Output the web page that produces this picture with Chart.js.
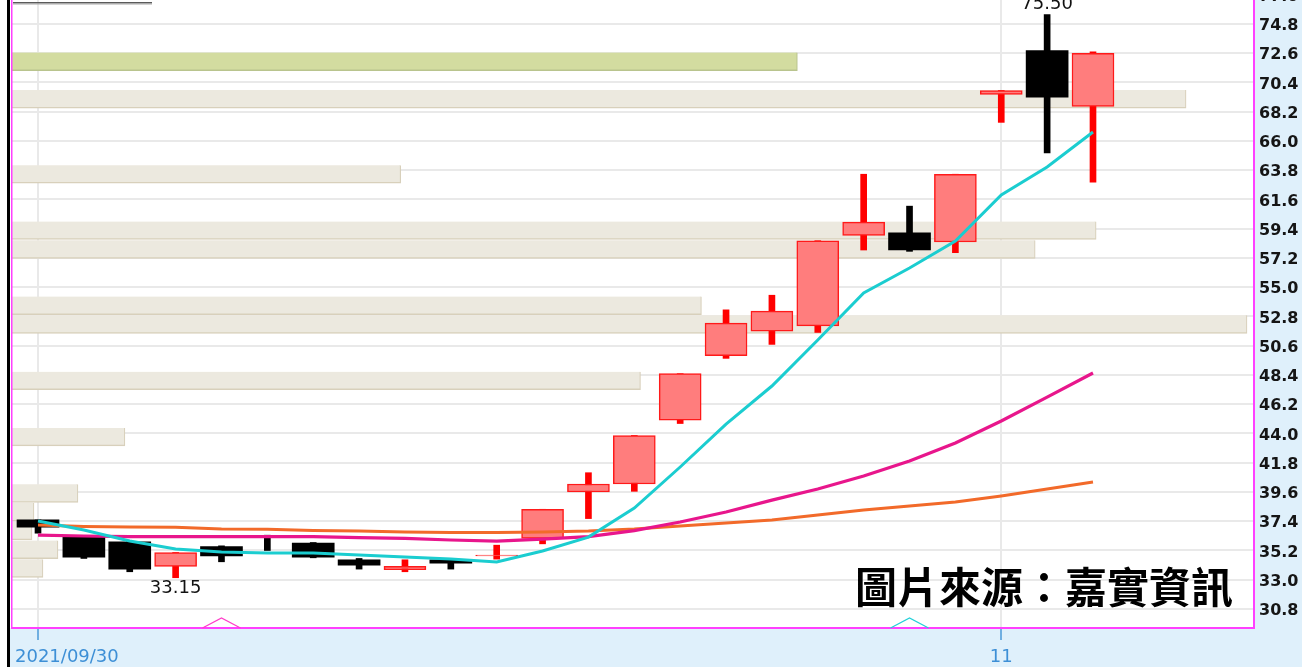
<!DOCTYPE html>
<html><head><meta charset="utf-8">
<script src="https://cdn.jsdelivr.net/npm/chart.js@4.4.1/dist/chart.umd.min.js"></script>
<style>html,body{margin:0;padding:0;background:#fff;overflow:hidden}canvas{display:block}</style>
</head><body>
<canvas id="c" width="1302" height="667"></canvas>
<script>
// ---------- data ----------
const dates = ['2021/09/30','2021/10/01','2021/10/04','2021/10/05','2021/10/06','2021/10/07','2021/10/08','2021/10/12',
  '2021/10/13','2021/10/14','2021/10/15','2021/10/18','2021/10/19','2021/10/20','2021/10/21','2021/10/22',
  '2021/10/25','2021/10/26','2021/10/27','2021/10/28','2021/10/29','2021/11/01','2021/11/02','2021/11/03'];
const openP  = [37.50,36.25,35.85,34.00,35.50,36.30,35.75,34.50,33.75,34.50,34.80,36.10,39.60,40.20,45.00,49.85,51.70,52.10,58.90,59.10,58.40,69.50,72.80,68.60];
const highP  = [37.50,36.30,35.95,35.05,35.55,36.35,35.80,34.60,34.50,34.55,35.60,38.30,41.05,43.85,48.50,53.30,54.40,58.50,63.50,61.10,63.50,69.80,75.50,72.70];
const lowP   = [36.50,34.60,33.60,33.15,34.35,35.20,34.65,33.80,33.60,33.80,34.55,35.70,37.60,39.65,44.75,49.65,50.70,51.60,57.80,57.70,57.60,67.40,65.10,62.90];
const closeP = [36.95,34.70,33.80,35.05,34.80,36.20,34.70,34.10,34.00,34.25,34.85,38.30,40.20,43.85,48.50,52.30,53.20,58.50,59.90,57.80,63.50,69.80,69.30,72.60];
const ma5    = [37.42,36.74,35.91,35.31,35.08,35.01,35.01,34.86,34.71,34.56,34.33,35.16,36.21,38.39,41.48,44.71,47.57,51.03,54.57,56.45,58.48,61.94,64.04,66.68];
const ma20   = [36.36,36.29,36.25,36.24,36.24,36.24,36.24,36.17,36.11,35.99,35.91,36.05,36.24,36.70,37.34,38.09,38.99,39.82,40.80,41.93,43.28,44.94,46.74,48.55];
const ma60   = [37.11,37.00,36.96,36.94,36.81,36.79,36.70,36.66,36.59,36.55,36.55,36.59,36.66,36.81,37.04,37.27,37.49,37.87,38.24,38.54,38.84,39.30,39.82,40.35];
// price-volume profile (price level, relative volume)
const volLevels  = [71.97,69.15,63.50,59.27,57.85,53.62,52.21,47.97,43.74,39.50,38.09,36.68,35.27,33.86];
const volAmounts = [786,1175,389,1085,1024,690,1236,629,113,66,22,20,46,31];
const volBinHalf = 0.706;
// axis ticks
const yTicks = [30.8,33.0,35.2,37.4,39.6,41.8,44.0,46.2,48.4,50.6,52.8,55.0,57.2,59.4,61.6,63.8,66.0,68.2,70.4,72.6,74.8,77.0];
const xTickIndices = [0, 21];
const xTickLabels = ['2021/09/30', '11'];
// signal markers (index of candle)
const markerMagenta = [4];
const markerCyan = [19];
const sourceText = '圖片來源：嘉實資訊';

// ---------- styles ----------
const UP_FILL = '#ff7d7d', UP_LINE = '#ff1a1a', DOWN = '#000000';
const MAGENTA_FRAME = '#ff40ff';
const BG_BLUE = '#dff0fb';
const GRID = '#e9e9e9';

const isUp = closeP.map((c, i) => c >= openP[i]);
const lastClose = closeP[closeP.length - 1];
const volHi = volLevels.map(l => Math.abs(l - lastClose) <= volBinHalf);

const pts = arr => arr.map((v, i) => ({x: i, y: v}));

const framePlugin = {
  id: 'frame',
  afterLayout(chart) {
    // let the date-label axis share the band of the main x axis
    const x = chart.scales.x, xd = chart.scales.xd;
    xd.top = x.top; xd.bottom = x.bottom; xd.height = x.height;
  },
  beforeDraw(chart) {
    const {ctx, chartArea: a, width, height} = chart;
    ctx.save();
    ctx.fillStyle = BG_BLUE; ctx.fillRect(0, 0, width, height);
    ctx.fillStyle = '#ffffff'; ctx.fillRect(0, 0, 7, height);
    ctx.fillStyle = '#ffffff'; ctx.fillRect(10, 0, a.right - 10, a.bottom);
    ctx.fillStyle = '#000000'; ctx.fillRect(7, 0, 3, height);
    ctx.restore();
  },
  afterDatasetsDraw(chart) {
    const {ctx, chartArea: a, scales} = chart;
    const xs = scales.x, ys = scales.y;
    ctx.save();
    // left frame line
    ctx.fillStyle = MAGENTA_FRAME; ctx.fillRect(11, 0, 1.5, a.bottom + 1);
    // top-left box edge
    ctx.fillStyle = '#5a5a5a'; ctx.fillRect(13, 2, 139, 1.5);
    ctx.fillStyle = '#aaaaaa'; ctx.fillRect(13, 3.5, 139, 1);
    // highest / lowest price labels
    let hi = 0, lo = 0;
    highP.forEach((v, i) => { if (v > highP[hi]) hi = i; });
    lowP.forEach((v, i) => { if (v < lowP[lo]) lo = i; });
    ctx.font = '18px "DejaVu Sans"';
    ctx.fillStyle = '#111111';
    ctx.textAlign = 'center';
    ctx.textBaseline = 'bottom';
    ctx.fillText(highP[hi].toFixed(2), xs.getPixelForValue(hi), ys.getPixelForValue(highP[hi]) - 1);
    ctx.textBaseline = 'top';
    ctx.fillText(lowP[lo].toFixed(2), xs.getPixelForValue(lo), ys.getPixelForValue(lowP[lo]) + 2);
    // signal chevrons on the bottom edge
    const chev = (idx, color) => {
      const px = xs.getPixelForValue(idx);
      ctx.strokeStyle = color; ctx.lineWidth = 1.3;
      ctx.beginPath();
      ctx.moveTo(px - 19, a.bottom); ctx.lineTo(px, a.bottom - 10); ctx.lineTo(px + 19, a.bottom);
      ctx.stroke();
    };
    markerMagenta.forEach(i => chev(i, '#ff3cc8'));
    markerCyan.forEach(i => chev(i, '#22d0d8'));
    // source watermark
    ctx.font = 'bold 42px "Noto Sans CJK TC"';
    ctx.fillStyle = '#000000';
    ctx.textAlign = 'right';
    ctx.textBaseline = 'middle';
    ctx.fillText(sourceText, a.right - 21, 587);
    ctx.restore();
  }
};

const X_MIN = -0.567, X_MAX = 26.51;
const Y_MIN = 29.37, Y_MAX = 76.605;

new Chart(document.getElementById('c'), {
  type: 'bar',
  data: {
    datasets: [
      {type: 'line', label: 'MA5', data: pts(ma5), borderColor: '#1bcdd0', borderWidth: 3, pointRadius: 0, tension: 0, order: 1, xAxisID: 'x', yAxisID: 'y'},
      {type: 'line', label: 'MA20', data: pts(ma20), borderColor: '#e8168c', borderWidth: 3.2, pointRadius: 0, tension: 0, order: 2, xAxisID: 'x', yAxisID: 'y'},
      {type: 'line', label: 'MA60', data: pts(ma60), borderColor: '#f26a2a', borderWidth: 3, pointRadius: 0, tension: 0, order: 3, xAxisID: 'x', yAxisID: 'y'},
      {type: 'bar', label: 'body', data: openP.map((o, i) => ({x: i, y: [o, closeP[i]]})),
        backgroundColor: isUp.map(u => u ? UP_FILL : DOWN),
        borderColor: isUp.map(u => u ? UP_LINE : DOWN),
        borderWidth: isUp.map(u => u ? 1.5 : 0),
        borderSkipped: false, barThickness: 42, grouped: false, order: 5, xAxisID: 'x', yAxisID: 'y'},
      {type: 'bar', label: 'wick', data: lowP.map((l, i) => ({x: i, y: [l, highP[i]]})),
        backgroundColor: isUp.map(u => u ? '#ff0000' : DOWN),
        borderWidth: 0, barThickness: 6, grouped: false, order: 6, xAxisID: 'x', yAxisID: 'y'},
      {type: 'bar', label: 'volume profile', indexAxis: 'y',
        data: volLevels.map((l, i) => ({x: volAmounts[i], y: l})),
        backgroundColor: volHi.map(h => h ? '#d3dca0' : '#ece9df'),
        borderColor: volHi.map(h => h ? '#b9c48e' : '#d8d0bb'),
        borderWidth: {top: 0, left: 0, right: 1.2, bottom: 1.5},
        borderSkipped: false, barThickness: 18, grouped: false, order: 9, xAxisID: 'xv', yAxisID: 'y'}
    ]
  },
  options: {
    responsive: false,
    animation: false,
    devicePixelRatio: 1,
    layout: {padding: {left: 12, top: 0, right: 0, bottom: 0}},
    plugins: {legend: {display: false}, tooltip: {enabled: false}},
    scales: {
      x: {
        type: 'linear', position: 'bottom', min: X_MIN, max: X_MAX, weight: 1, offset: false, bounds: 'data',
        afterBuildTicks: s => { s.ticks = xTickIndices.map(v => ({value: v})); },
        afterFit: s => { s.height = 39; s.paddingLeft = 0; s.paddingRight = 0; },
        grid: {offset: false, color: GRID, lineWidth: 2, drawTicks: true, tickLength: 12, tickColor: '#4b9ad9', tickWidth: 1.5},
        border: {display: true, color: MAGENTA_FRAME, width: 2},
        ticks: {autoSkip: false, maxRotation: 0, padding: 7, color: '#3d8fd6',
          font: {family: 'DejaVu Sans', size: 18},
          callback: (v, i) => i === 0 ? '' : xTickLabels[i]}
      },
      xd: {
        type: 'linear', position: 'bottom', min: X_MIN, max: X_MAX, weight: 0, offset: false, bounds: 'data',
        afterBuildTicks: s => { s.ticks = [{value: xTickIndices[0]}]; },
        afterFit: s => { s.height = 0; s.paddingLeft = 0; s.paddingRight = 0; },
        grid: {display: false, drawTicks: false, offset: false}, border: {display: false},
        ticks: {autoSkip: false, maxRotation: 0, padding: 19, align: 'start', labelOffset: -23, color: '#3d8fd6',
          font: {family: 'DejaVu Sans', size: 18},
          callback: () => xTickLabels[0]}
      },
      xv: {type: 'linear', display: false, min: 0, max: 1243, offset: false, beginAtZero: true, grid: {offset: false}},
      y: {
        type: 'linear', position: 'right', min: Y_MIN, max: Y_MAX, bounds: 'data', offset: false,
        afterBuildTicks: s => { s.ticks = yTicks.map(v => ({value: v})); },
        afterFit: s => { s.width = 48; s.paddingTop = 0; s.paddingBottom = 0; },
        grid: {offset: false, color: GRID, lineWidth: 2, drawTicks: false},
        border: {display: true, color: MAGENTA_FRAME, width: 2},
        ticks: {autoSkip: false, padding: 5, labelOffset: 2, color: '#151515',
          font: {family: 'DejaVu Sans', size: 16, weight: 'bold'},
          callback: v => Number(v).toFixed(1)}
      }
    }
  },
  plugins: [framePlugin]
});
</script>
</body></html>
